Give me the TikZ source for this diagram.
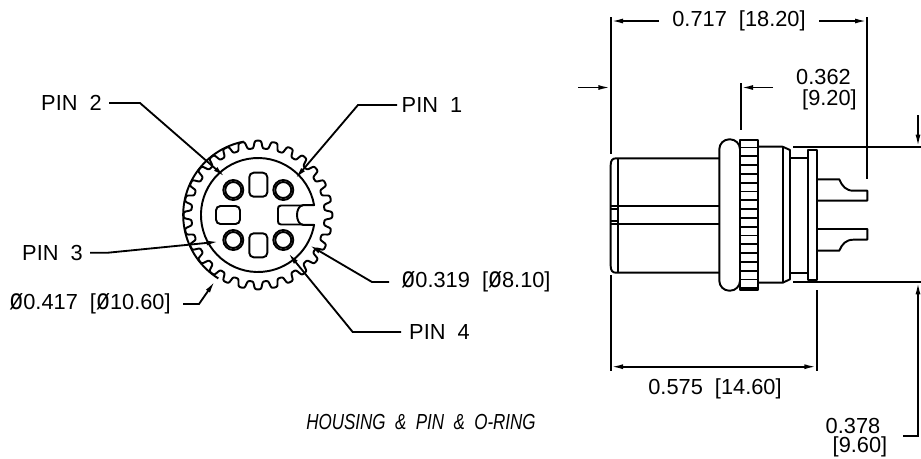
\documentclass[tikz,border=0pt]{standalone}
\usepackage{fontspec}
\setmainfont{Liberation Sans}
\usetikzlibrary{arrows.meta}
\newcommand{\dia}{\scalebox{1.05}[1.35]{ø}}
\tikzstyle{tS}=[inner sep = 0pt, font=\fontsize{12.4}{14}\selectfont,align=center]
\tikzstyle{tI}=[inner sep = 0pt, font=\fontsize{12.4}{14}\selectfont\itshape]
\tikzstyle{eL}=[line width=1.05pt,-{Latex[length=7pt,width=2.8pt]}]
\tikzstyle{eD}=[line width=1.05pt,{Latex[length=7pt,width=2.8pt]}-{Latex[length=7pt,width=2.8pt]}]
\tikzstyle{eE}=[line width=1.05pt]
\tikzstyle{bS}=[line width=1.1pt,line join=round]
\tikzstyle{kS}=[rectangle,rounded corners=2.5pt,draw,line width=1.1pt,inner sep = 0pt]
\tikzstyle{pS}=[circle,draw,line width=1.1pt,inner sep = 0pt]

\begin{document}
\begin{tikzpicture}[x=0.02cm,y=-0.02cm,
    declare function={gearC(\t)=cos(28*\t); gearR(\t)=70.5+3.9*2.6*gearC(\t)/sqrt(1+5.76*gearC(\t)*gearC(\t));}]
    \useasboundingbox (0,0) rectangle (921,458);
    % front view
    \draw[bS] plot[domain=0:360,samples=1009,smooth] ({258+gearR(\x)*cos(\x)},{215-gearR(\x)*sin(\x)});
    \draw[bS] ({258+74.8*cos(101)},{215-74.8*sin(101)}) arc[x radius=74.8,y radius=-74.8,start angle=101,end angle=238];
    \draw[bS] (314.1,205.1) arc[x radius=57,y radius=-57,start angle=10,end angle=350] -- (303,224.9)
        .. controls (295,224) and (295,206) .. (303,205.1) -- cycle;
    \foreach \n/\x/\y in {a/233.3/190,b/283.3/190,c/233.3/240,d/283.3/240}{
        \draw (\x,\y) node[pS,minimum size=0.40cm] (o\n) {};
        \draw (\x,\y) node[pS,minimum size=0.32cm] (i\n) {};
    }
    \draw (258.3,184.7) node[kS,minimum width=0.36cm,minimum height=0.48cm] (kTop) {};
    \draw (258.3,245.3) node[kS,minimum width=0.36cm,minimum height=0.48cm] (kBot) {};
    \draw (228,215) node[kS,minimum width=0.48cm,minimum height=0.36cm] (kLeft) {};
    \draw[bS] (303,205.5) -- (281,205.5) .. controls (278.5,205.5) and (278,207) .. (278,209)
        -- (278,221) .. controls (278,223) and (278.5,224.5) .. (281,224.5) -- (303,224.5);
    % pin labels
    \draw (71.5,103) node[tS] (tPin2) {PIN~~2};
    \draw (432,105) node[tS] (tPin1) {PIN~~1};
    \draw (52.5,253) node[tS] (tPin3) {PIN~~3};
    \draw (439.5,332) node[tS] (tPin4) {PIN~~4};
    \draw (476,282) node[tS] (tDiaA) {\dia0.319~~[\dia8.10]};
    \draw (90,304) node[tS] (tDiaB) {\dia0.417~~[\dia10.60]};
    \draw (421,422) node[tI] (tTitle) {\scalebox{0.78}[1]{HOUSING~~\&~~PIN~~\&~~O-RING}};
    \coordinate (s2) at (109,103); \coordinate (k2) at (140,103); \coordinate (a2) at (225,177);
    \coordinate (s1) at (397,105); \coordinate (k1) at (358,105); \coordinate (a1) at (295,179);
    \coordinate (s3) at (90,252.7); \coordinate (k3) at (108,252.7); \coordinate (a3) at (219,241.7);
    \coordinate (s4) at (401,332); \coordinate (k4) at (352.7,332); \coordinate (a4) at (288,252.7);
    \coordinate (sA) at (389,282); \coordinate (kA) at (372,282); \coordinate (aA) at (309,245);
    \coordinate (sB) at (183,304); \coordinate (kB) at (199,304); \coordinate (aB) at (215,281);
    \draw[eL] (s2) -- (k2) -- (a2);
    \draw[eL] (s1) -- (k1) -- (a1);
    \draw[eL] (s3) -- (k3) -- (a3);
    \draw[eL] (s4) -- (k4) -- (a4);
    \draw[eL] (sA) -- (kA) -- (aA);
    \draw[eL] (sB) -- (kB) -- (aB);
    % side view
    \draw[bS] (719.3,158.3) -- (616,158.3) .. controls (612.5,158.3) and (610.7,160.5) .. (610.7,165)
        -- (610.7,266) .. controls (610.7,270.5) and (612.5,272.7) .. (616,272.7) -- (719.3,272.7);
    \draw[bS] (618.3,158.3) -- (618.3,272.7);
    \draw[bS] (610.7,206) -- (719.3,206);
    \draw[bS] (610.7,224.3) -- (719.3,224.3);
    \draw[bS] (610.7,209.3) -- (618.3,209.3);
    \draw[bS] (610.7,220.7) -- (618.3,220.7);
    \draw[bS,rounded corners=5.7pt] (719.3,139.3) rectangle (740,290.7);
    \draw[bS] (740,140) rectangle (757.7,290);
    \foreach \i in {0,...,16}{
        \draw[bS] (740,{147.5+\i*8.8}) -- (757.7,{147.5+\i*8.8});
    }
    \draw[bS] (757.7,146.7) -- (782.7,146.7) -- (790,150) -- (790,279.3) -- (782.7,282.7) -- (757.7,282.7);
    \draw[bS] (782.7,146.7) -- (782.7,282.7);
    \draw[bS] (790,158.3) -- (808,158.3);
    \draw[bS] (790,272.7) -- (808,272.7);
    \draw[bS] (808,150) rectangle (816.7,280);
    \draw[bS] (816.7,179.3) -- (839.3,179.3) .. controls (842,186) and (846,190.7) .. (853.3,190.7)
        -- (867.3,190.7) -- (867.3,200.7) -- (816.7,200.7);
    \draw[bS] (816.7,229) -- (867.3,229) -- (867.3,239.7) -- (853.3,239.7)
        .. controls (846,239.7) and (842,244) .. (839.3,250.7) -- (816.7,250.7);
    % dimensions
    \draw (739,21) node[tS] (tLenA) {0.717~~[18.20]};
    \draw (715,389) node[tS] (tLenB) {0.575~~[14.60]};
    \draw (823.5,77) node[tS] (tLenC) {0.362};
    \draw (829.5,100) node[tS] (tLenD) {[9.20]};
    \draw (853,426) node[tS] (tLenE) {0.378};
    \draw (860,447) node[tS] (tLenF) {[9.60]};
    \coordinate (eA) at (610.7,17);  \coordinate (eAb) at (610.7,154);
    \coordinate (eB) at (867.3,17);  \coordinate (eBb) at (867.3,179);
    \coordinate (eC) at (740.7,83);  \coordinate (eCb) at (740.7,130);
    \coordinate (eD) at (610.7,275); \coordinate (eDb) at (610.7,371);
    \coordinate (eF) at (816.7,290); \coordinate (eFb) at (816.7,371);
    \coordinate (eG) at (793,147);   \coordinate (eGb) at (921,147);
    \coordinate (eH) at (793,282);   \coordinate (eHb) at (921,282);
    \draw[eE] (eA) -- (eAb);
    \draw[eE] (eB) -- (eBb);
    \draw[eE] (eC) -- (eCb);
    \draw[eE] (eD) -- (eDb);
    \draw[eE] (eF) -- (eFb);
    \draw[eE] (eG) -- (eGb);
    \draw[eE] (eH) -- (eHb);
    \coordinate (dA) at (659,21); \coordinate (dAt) at (610.7,21);
    \coordinate (dB) at (819,21); \coordinate (dBt) at (867.3,21);
    \coordinate (dC) at (578,87.5); \coordinate (dCt) at (610.7,87.5);
    \coordinate (dE) at (773,87.5); \coordinate (dEt) at (740.7,87.5);
    \coordinate (dF) at (918,115);  \coordinate (dFt) at (918,147);
    \coordinate (dG) at (903,436);  \coordinate (dGk) at (918,436); \coordinate (dGt) at (918,282);
    \coordinate (dH) at (610.7,366.7); \coordinate (dHt) at (816.7,366.7);
    \draw[eL] (dA) -- (dAt);
    \draw[eL] (dB) -- (dBt);
    \draw[eL] (dC) -- (dCt);
    \draw[eL] (dE) -- (dEt);
    \draw[eL] (dF) -- (dFt);
    \draw[eL] (dG) -- (dGk) -- (dGt);
    \draw[eD] (dH) -- (dHt);
\end{tikzpicture}
\end{document}
